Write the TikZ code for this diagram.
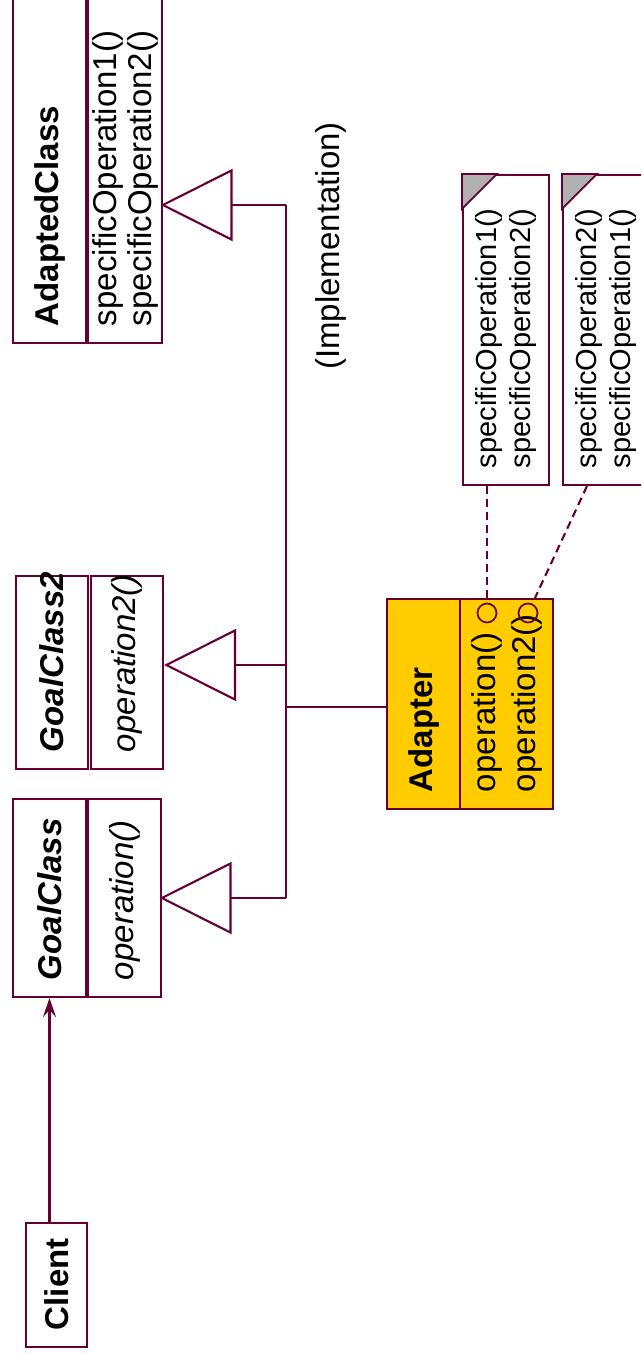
\documentclass[tikz,border=0pt]{standalone}
\usepackage{fontspec}
\setmainfont{Liberation Sans}
\usetikzlibrary{arrows.meta}
\definecolor{umlline}{HTML}{660033}
\definecolor{adapterfill}{HTML}{FFCC00}
\definecolor{foldgrey}{HTML}{B0B0B0}
\hyphenpenalty=10000
\exhyphenpenalty=10000
\hfuzz=200pt
\hbadness=10000
\begin{document}
\begin{tikzpicture}[x=1pt,y=-1pt,
  comp/.style={draw=umlline, line width=2.1pt, rotate=90, inner xsep=17pt, inner ysep=0pt,
    align=left, font=\fontsize{33}{35}\selectfont},
  notebox/.style={comp, font=\fontsize{29}{34}\selectfont},
  uline/.style={draw=umlline, line width=2.1pt},
  gen/.style={uline, -{Triangle[open, length=72pt, width=72pt, line width=2.1pt]}},
  dep/.style={uline, -{Stealth[length=19pt, width=13pt, inset=7pt]}},
  dashline/.style={uline, dash pattern=on 8pt off 5pt},
  port/.style={circle, draw=umlline, line width=1.7pt, minimum size=19pt, inner sep=0pt},
  fold/.style={fill=foldgrey, draw=umlline, line width=1.7pt, line join=miter}
]
\useasboundingbox (0,0) rectangle (641,1355);
\fill[white] (0,0) rectangle (641,1355);
\clip (0,0) rectangle (641,1355);

% AdaptedClass
\node[comp, minimum width=383pt, minimum height=73pt, text width=349pt] (acName) at (49.5,151.5) {\bfseries AdaptedClass};
\node[comp, minimum width=383pt, minimum height=74pt, text width=349pt] (acOps) at (125,151.5) {specificOperation1()\\specificOperation2()};

% GoalClass2
\node[comp, minimum width=193pt, minimum height=72pt, text width=159pt] (gc2Name) at (52,672.5) {\bfseries\itshape GoalClass2};
\node[comp, minimum width=193pt, minimum height=72pt, text width=159pt] (gc2Ops) at (127,672.5) {\itshape operation2()};

% GoalClass
\node[comp, minimum width=198pt, minimum height=73pt, text width=164pt] (gcName) at (49.5,898) {\bfseries\itshape GoalClass};
\node[comp, minimum width=198pt, minimum height=73pt, text width=164pt] (gcOps) at (124.5,898) {\itshape operation()};

% Client
\node[comp, minimum width=124pt, minimum height=61pt, text width=90pt] (client) at (56.5,1285) {\bfseries Client};

% Adapter
\node[comp, fill=adapterfill, minimum width=210pt, minimum height=73pt, text width=176pt] (adName) at (423.5,704) {\bfseries Adapter};
\node[comp, fill=adapterfill, minimum width=210pt, minimum height=93pt, text width=176pt, font=\fontsize{33}{40}\selectfont] (adOps) at (506.5,704) {operation()\\operation2()};

% ports
\node[port] (circ1) at (487,613) {};
\node[port] (circ2) at (528,613) {};

% notes
\node[notebox, minimum width=310pt, minimum height=86pt, text width=276pt] (note1) at (506,330) {specificOperation1()\\specificOperation2()};
\node[notebox, minimum width=310pt, minimum height=86pt, text width=276pt] (note2) at (606,330) {specificOperation2()\\specificOperation1()};
\filldraw[fold] (note1.north east) -- ++(35,0) -- ++(-35,35) -- cycle;
\filldraw[fold] (note2.north east) -- ++(35,0) -- ++(-35,35) -- cycle;

% label
\node[rotate=90, inner sep=0pt, font=\fontsize{33}{40}\selectfont] (impl) at (331,246) {(Implementation)};

% generalization bus
\coordinate (busA) at (286,205);
\coordinate (busB) at (286,665);
\coordinate (busC) at (286,898);
\coordinate (busD) at (286,707);
\draw[uline] (busA) -- (busC);
\draw[gen, shorten >=-2.5pt] (busA) -- (busA -| acOps.south);
\draw[gen] (busB) -- (busB -| gc2Ops.south);
\draw[gen, shorten >=-2.5pt] (busC) -- (busC -| gcOps.south);
\draw[uline] (busD) -- (busD -| adName.north);

% client dependency
\draw[dep] (gcName.west |- client.east) -- (gcName.west);

% note links
\draw[dashline] (circ1 |- note1.west) -- (circ1 |- adOps.east);
\draw[dashline] ([xshift=-19pt]note2.west) -- (circ2);
\end{tikzpicture}
\end{document}
